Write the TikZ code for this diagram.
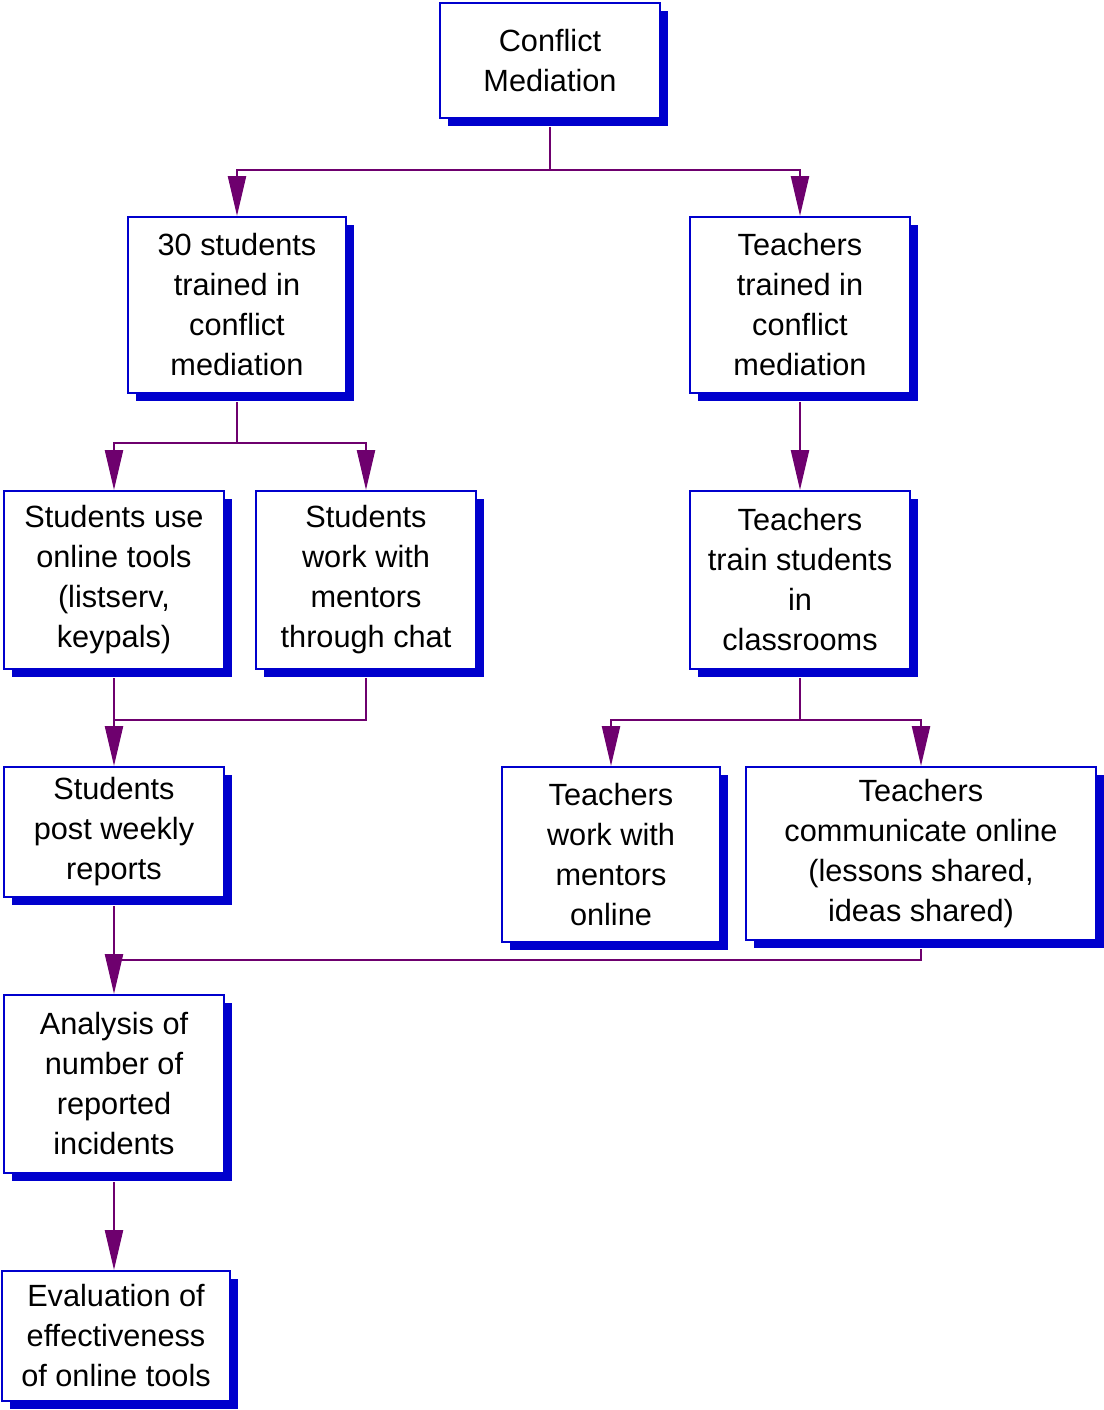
\documentclass[tikz,border=0pt]{standalone}
\usepackage{fontspec}
\setmainfont{Liberation Sans}
\usetikzlibrary{positioning,arrows.meta,shadows}
\definecolor{boxblue}{RGB}{0,0,205}
\definecolor{linkpurple}{RGB}{110,0,110}

\begin{document}
\begin{tikzpicture}[x=1pt,y=-1pt,
				block/.style={draw=boxblue,line width=2pt,fill=white,rectangle,align=center,inner sep=0pt,
					font=\fontsize{30.7}{40}\selectfont,minimum width=220pt,
					drop shadow={shadow xshift=8pt,shadow yshift=-8pt,fill=boxblue,opacity=1}},
				link/.style={draw=linkpurple,line width=2.4pt},
				flow/.style={link,-{Triangle[length=40pt,width=18pt]}}]
				\useasboundingbox (0,0) rectangle (1103,1410);

				\node (CONF)     [block,minimum height=115pt] at (550,60.5)  {Conflict\\Mediation};
				\node (STUD)     [block,minimum width=218pt,minimum height=176pt] at (237,305) {30 students\\trained in\\conflict\\mediation};
				\node (TEACH)    [block,minimum height=176pt] at (800,305)  {Teachers\\trained in\\conflict\\mediation};
				\node (TOOLS)    [block,minimum height=178pt] at (114,580)  {Students use\\online tools\\(listserv,\\keypals)};
				\node (CHAT)     [block,minimum height=178pt] at (366,580)  {Students\\work with\\mentors\\through chat};
				\node (TRAIN)    [block,minimum height=178pt] at (800,580)  {Teachers\\train students\\in\\classrooms};
				\node (REPORTS)  [block,minimum height=130pt] at (114,832)  {Students\\post weekly\\reports};
				\node (MENTORS)  [block,minimum width=218pt,minimum height=175pt] at (611,854.5) {Teachers\\work with\\mentors\\online};
				\node (ONLINE)   [block,minimum width=350pt,minimum height=173pt] at (921,853.5) {Teachers\\communicate online\\(lessons shared,\\ideas shared)};
				\node (ANALYSIS) [block,minimum height=178pt] at (114,1084) {Analysis of\\number of\\reported\\incidents};
				\node (EVAL)     [block,minimum width=228pt,minimum height=130pt] at (116,1336) {Evaluation of\\effectiveness\\of online tools};

				\coordinate (J1) at (CONF.south |- 0,170);
				\coordinate (J2) at (STUD.south |- 0,443);
				\coordinate (J3) at (TOOLS.south |- 0,720);
				\coordinate (J4) at (TRAIN.south |- 0,720);
				\coordinate (J5) at (REPORTS.south |- 0,960);

				% top split
				\draw[link] ([yshift=-8pt]CONF.south) -- (J1);
				\draw[flow] (J1) -| (STUD.north);
				\draw[flow] (J1) -| (TEACH.north);
				% students branch
				\draw[link] ([yshift=-8pt]STUD.south) -- (J2);
				\draw[flow] (J2) -| (TOOLS.north);
				\draw[flow] (J2) -| (CHAT.north);
				\draw[link] ([yshift=-8pt]CHAT.south) |- (J3);
				\draw[flow] ([yshift=-8pt]TOOLS.south) -- (REPORTS.north);
				% teachers branch
				\draw[flow] ([yshift=-8pt]TEACH.south) -- (TRAIN.north);
				\draw[link] ([yshift=-8pt]TRAIN.south) -- (J4);
				\draw[flow] (J4) -| (MENTORS.north);
				\draw[flow] (J4) -| (ONLINE.north);
				% merge
				\draw[link] ([yshift=-8pt]ONLINE.south) |- (J5);
				\draw[flow] ([yshift=-8pt]REPORTS.south) -- (ANALYSIS.north);
				\draw[flow] ([yshift=-8pt]ANALYSIS.south) -- (ANALYSIS.south |- EVAL.north);
			\end{tikzpicture}
\end{document}
